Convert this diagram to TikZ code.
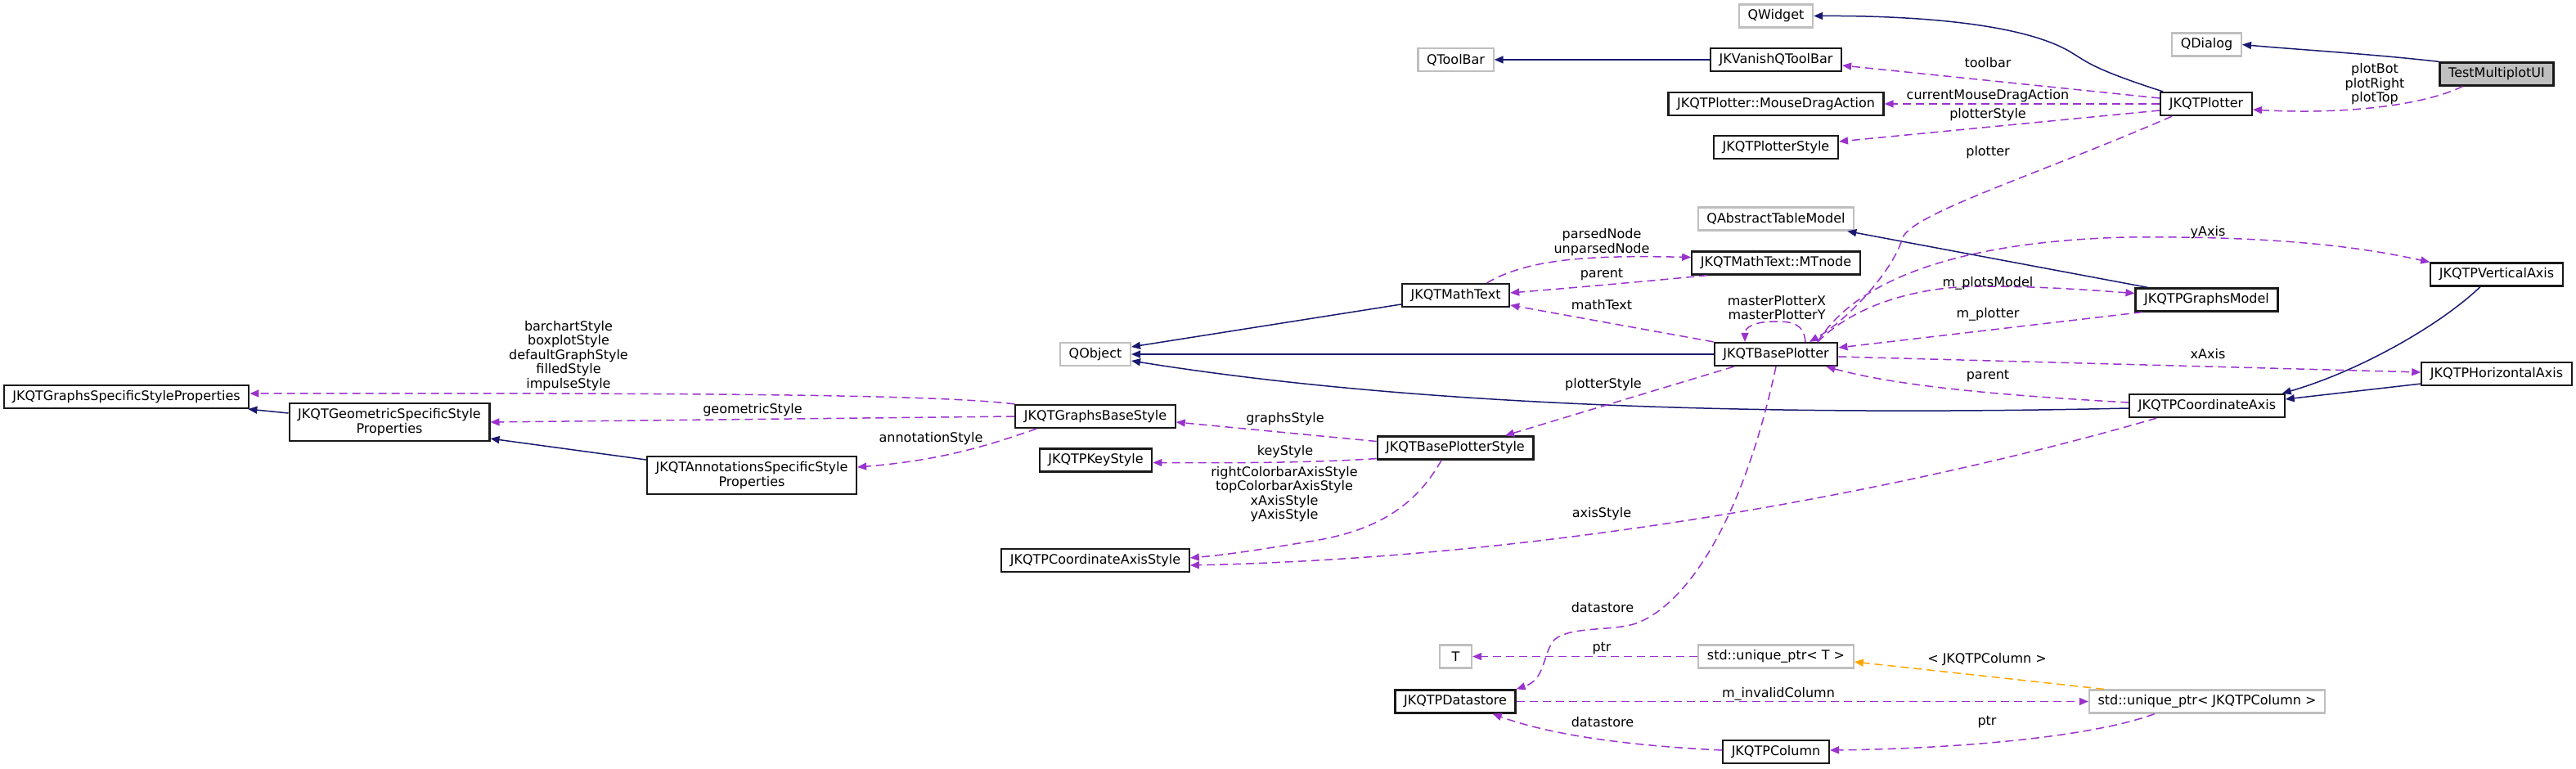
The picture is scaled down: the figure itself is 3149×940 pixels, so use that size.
\documentclass[tikz,border=0pt]{standalone}
\usepackage{fontspec}
\setmainfont{DejaVu Sans}
\usepackage{tikz}
\usetikzlibrary{arrows.meta}
\definecolor{inheritblue}{RGB}{25,25,112}
\definecolor{usagepurple}{RGB}{154,50,205}
\definecolor{tmplorange}{RGB}{255,165,0}
\definecolor{extgray}{RGB}{191,191,191}

\begin{document}
\begin{tikzpicture}[x=0.5pt,y=-0.5pt,
    every node/.style={font=\fontsize{8}{8.75}\selectfont},
    cls/.style={draw=black!90,fill=white,line width=1.1pt,minimum height=14pt,
      minimum width=19.5pt,inner xsep=5.3pt,inner ysep=0pt,align=center},
    extcls/.style={cls,draw=extgray},
    rootcls/.style={cls,fill=extgray},
    lbl/.style={inner sep=0pt,align=center},
    inherit/.style={color=inheritblue,line width=0.75pt,-{Triangle[length=5.5pt,width=4.5pt]}},
    uses/.style={color=usagepurple,line width=0.75pt,dash pattern=on 5pt off 3pt,
      -{Triangle[length=5.5pt,width=4.5pt]}},
    tmpl/.style={uses,color=tmplorange}]
  \useasboundingbox (0,0) rectangle (3149,940);
  % classes
  \node[rootcls] (testui)      at (3052,90.5)  {TestMultiplotUI};
  \node[extcls]  (qdialog)     at (2697.5,54.5) {QDialog};
  \node[extcls]  (qwidget)     at (2171,19.5)  {QWidget};
  \node[cls]     (plotter)     at (2697,127)   {JKQTPlotter};
  \node[cls]     (vanish)      at (2171,73)    {JKVanishQToolBar};
  \node[extcls]  (qtoolbar)    at (1779.5,73)  {QToolBar};
  \node[cls]     (dragact)     at (2171,127)   {JKQTPlotter::MouseDragAction};
  \node[cls]     (plotstyle)   at (2171,180)   {JKQTPlotterStyle};
  \node[extcls]  (tablemodel)  at (2171,267.5) {QAbstractTableModel};
  \node[cls]     (mtnode)      at (2171,321.5) {JKQTMathText::MTnode};
  \node[cls]     (mathtext)    at (1779.5,361) {JKQTMathText};
  \node[cls]     (baseplot)    at (2171,433)   {JKQTBasePlotter};
  \node[cls]     (graphsmodel) at (2697.5,366.5) {JKQTPGraphsModel};
  \node[cls]     (vaxis)       at (3052,335.5) {JKQTPVerticalAxis};
  \node[cls]     (haxis)       at (3052,457)   {JKQTPHorizontalAxis};
  \node[cls]     (coordaxis)   at (2698,496)   {JKQTPCoordinateAxis};
  \node[extcls]  (qobject)     at (1339,433)   {QObject};
  \node[cls]     (gbasestyle)  at (1339,509)   {JKQTGraphsBaseStyle};
  \node[cls]     (keystyle)    at (1339.5,562.5) {JKQTPKeyStyle};
  \node[cls]     (bpstyle)     at (1779,547.5) {JKQTBasePlotterStyle};
  \node[cls]     (axisstyle)   at (1339,685)   {JKQTPCoordinateAxisStyle};
  \node[cls]     (gspec)       at (154.5,485)  {JKQTGraphsSpecificStyleProperties};
  \node[cls,minimum height=23pt] (geomspec) at (476,516) {JKQTGeometricSpecificStyle\\Properties};
  \node[cls,minimum height=23pt] (annspec)  at (919,581) {JKQTAnnotationsSpecificStyle\\Properties};
  \node[extcls]  (tnode)       at (1779.5,802.5) {T};
  \node[extcls]  (uptrT)       at (2171,802.5) {std::unique\_ptr< T >};
  \node[cls]     (datastore)   at (1779,857.5) {JKQTPDatastore};
  \node[extcls]  (uptrCol)     at (2698,857.5) {std::unique\_ptr< JKQTPColumn >};
  \node[cls]     (column)      at (2171,919)   {JKQTPColumn};
  % inheritance
  \draw[inherit] (testui.north west) .. controls (2900,66) and (2800,60) .. (qdialog.east);
  \draw[inherit] ([xshift=2pt]plotter.north west) .. controls (2560,85) and (2550,75) .. (2535,66)
    .. controls (2480,30) and (2350,19) .. (qwidget.east);
  \draw[inherit] (vanish.west) -- (qtoolbar.east);
  \draw[inherit] (baseplot.west) -- (qobject.east);
  \draw[inherit] ([yshift=-5.5pt]mathtext.west) -- ([yshift=4.5pt]qobject.east);
  \draw[inherit] ([yshift=-1.5pt]coordaxis.west) .. controls (2200,508) and (1750,500) .. ([yshift=-4pt]qobject.east);
  \draw[inherit] ([xshift=8pt]graphsmodel.north west) -- ([xshift=-4.5pt]tablemodel.south east);
  \draw[inherit] ([xshift=-10pt]vaxis.south) .. controls (2980,400) and (2880,455) .. ([xshift=-2pt]coordaxis.north east);
  \draw[inherit] ([yshift=1.5pt]haxis.south west) -- ([yshift=4pt]coordaxis.east);
  \draw[inherit] ([yshift=5.5pt]geomspec.west) -- ([xshift=-1pt]gspec.south east);
  \draw[inherit] ([yshift=9.5pt]annspec.west) -- ([yshift=2pt]geomspec.south east);
  % members
  \draw[uses] ([xshift=14.5pt]testui.south west) .. controls (2960,130) and (2860,140) .. ([yshift=-3.5pt]plotter.east);
  \draw[uses] ([yshift=3.5pt]plotter.west) -- ([yshift=-3.5pt]vanish.east);
  \draw[uses] (plotter.west) -- (dragact.east);
  \draw[uses] ([yshift=-4pt]plotter.west) -- ([yshift=3.5pt]plotstyle.east);
  \draw[uses] ([xshift=7.5pt]plotter.south west) .. controls (2500,210) and (2340,260) .. (2326,290)
    .. controls (2315,330) and (2260,390) .. ([xshift=20.5pt]baseplot.north);
  \draw[uses] ([xshift=18pt]baseplot.north) .. controls (2205,395) and (2190,393) .. (2170,393)
    .. controls (2145,393) and (2133,400) .. ([xshift=-19pt]baseplot.north);
  \draw[uses] ([xshift=19pt]mathtext.north) .. controls (1870,315) and (1950,312) .. ([yshift=3.5pt]mtnode.west);
  \draw[uses] ([xshift=10pt]mtnode.south west) .. controls (2000,345) and (1920,352) .. ([yshift=1.5pt]mathtext.east);
  \draw[uses] (baseplot.north west) -- ([yshift=-6pt]mathtext.east);
  \draw[uses] ([xshift=25.5pt]baseplot.north) .. controls (2270,370) and (2350,350) .. (2420,350)
    .. controls (2500,350) and (2560,355) .. ([yshift=4pt]graphsmodel.west);
  \draw[uses] ([xshift=4.5pt]graphsmodel.south west) -- ([yshift=4pt]baseplot.east);
  \draw[uses] ([xshift=25.5pt]baseplot.north) .. controls (2270,340) and (2400,295) .. (2600,290)
    .. controls (2800,288) and (2900,305) .. (vaxis.north west);
  \draw[uses] ([yshift=-1.5pt]baseplot.east) -- ([yshift=1pt]haxis.west);
  \draw[uses] ([yshift=2pt]coordaxis.west) .. controls (2480,485) and (2330,475) .. ([xshift=-7.5pt]baseplot.south east);
  \draw[uses] ([xshift=12.5pt]baseplot.south west) -- ([xshift=30.5pt]bpstyle.north);
  \draw[uses] (baseplot.south) .. controls (2130,640) and (2060,740) .. (2000,762)
    .. controls (1970,772) and (1920,765) .. (1900,782)
    .. controls (1885,800) and (1890,830) .. (datastore.north east);
  \draw[uses] (gbasestyle.north west) .. controls (1150,483) and (900,480) .. ([yshift=2pt]gspec.east);
  \draw[uses] (gbasestyle.west) -- (geomspec.east);
  \draw[uses] ([xshift=13.5pt]gbasestyle.south west) .. controls (1220,540) and (1160,562) .. ([yshift=5pt]annspec.east);
  \draw[uses] ([yshift=4pt]bpstyle.west) -- ([yshift=-3.5pt]gbasestyle.east);
  \draw[uses] ([yshift=1pt]bpstyle.south west) .. controls (1600,566) and (1500,566) .. ([yshift=-1.5pt]keystyle.east);
  \draw[uses] ([xshift=-8.5pt]bpstyle.south) .. controls (1730,620) and (1680,650) .. (1600,662)
    .. controls (1540,672) and (1500,678) .. ([yshift=1.5pt]axisstyle.east);
  \draw[uses] ([xshift=17pt]coordaxis.south west) .. controls (2400,580) and (1950,680) .. ([yshift=-3pt]axisstyle.east);
  \draw[uses] (uptrT.west) -- (tnode.east);
  \draw[uses] (datastore.east) -- (uptrCol.west);
  \draw[tmpl] ([xshift=9.5pt]uptrCol.north west) -- ([yshift=-3.25pt]uptrT.east);
  \draw[uses] ([xshift=40.5pt]uptrCol.south west) .. controls (2560,900) and (2400,915) .. ([yshift=1pt]column.east);
  \draw[uses] ([yshift=1pt]column.west) .. controls (2000,912) and (1900,900) .. ([xshift=-14.5pt]datastore.south east);
  % edge labels
  \node[lbl] (l-plots)    at (2903,103) {plotBot\\plotRight\\plotTop};
  \node[lbl] (l-toolbar)  at (2430,77)  {toolbar};
  \node[lbl] (l-drag)     at (2430,117) {currentMouseDragAction};
  \node[lbl] (l-pstyle)   at (2430,140) {plotterStyle};
  \node[lbl] (l-plotter)  at (2430,186) {plotter};
  \node[lbl] (l-parsed)   at (1958,296) {parsedNode\\unparsedNode};
  \node[lbl] (l-mtparent) at (1958,336) {parent};
  \node[lbl] (l-mathtext) at (1958,373) {mathText};
  \node[lbl] (l-master)   at (2172,376) {masterPlotterX\\masterPlotterY};
  \node[lbl] (l-model)    at (2430,346) {m\_plotsModel};
  \node[lbl] (l-mplotter) at (2430,384) {m\_plotter};
  \node[lbl] (l-yaxis)    at (2699,284) {yAxis};
  \node[lbl] (l-xaxis)    at (2699,433) {xAxis};
  \node[lbl] (l-axparent) at (2430,460) {parent};
  \node[lbl] (l-bpstyle)  at (1960,470) {plotterStyle};
  \node[lbl] (l-graphs)   at (1571,512) {graphsStyle};
  \node[lbl] (l-key)      at (1571,552) {keyStyle};
  \node[lbl] (l-axstyles) at (1570,604) {rightColorbarAxisStyle\\topColorbarAxisStyle\\xAxisStyle\\yAxisStyle};
  \node[lbl] (l-axis)     at (1958,628) {axisStyle};
  \node[lbl] (l-ds1)      at (1959,743) {datastore};
  \node[lbl] (l-specific) at (695,435)  {barchartStyle\\boxplotStyle\\defaultGraphStyle\\filledStyle\\impulseStyle};
  \node[lbl] (l-geom)     at (920,501)  {geometricStyle};
  \node[lbl] (l-annot)    at (1138,536) {annotationStyle};
  \node[lbl] (l-ptrT)     at (1958,793) {ptr};
  \node[lbl] (l-invalid)  at (2174,848) {m\_invalidColumn};
  \node[lbl] (l-tmpl)     at (2429,806) {< JKQTPColumn >};
  \node[lbl] (l-ptrCol)   at (2429,883) {ptr};
  \node[lbl] (l-ds2)      at (1959,883) {datastore};
\end{tikzpicture}
\end{document}
